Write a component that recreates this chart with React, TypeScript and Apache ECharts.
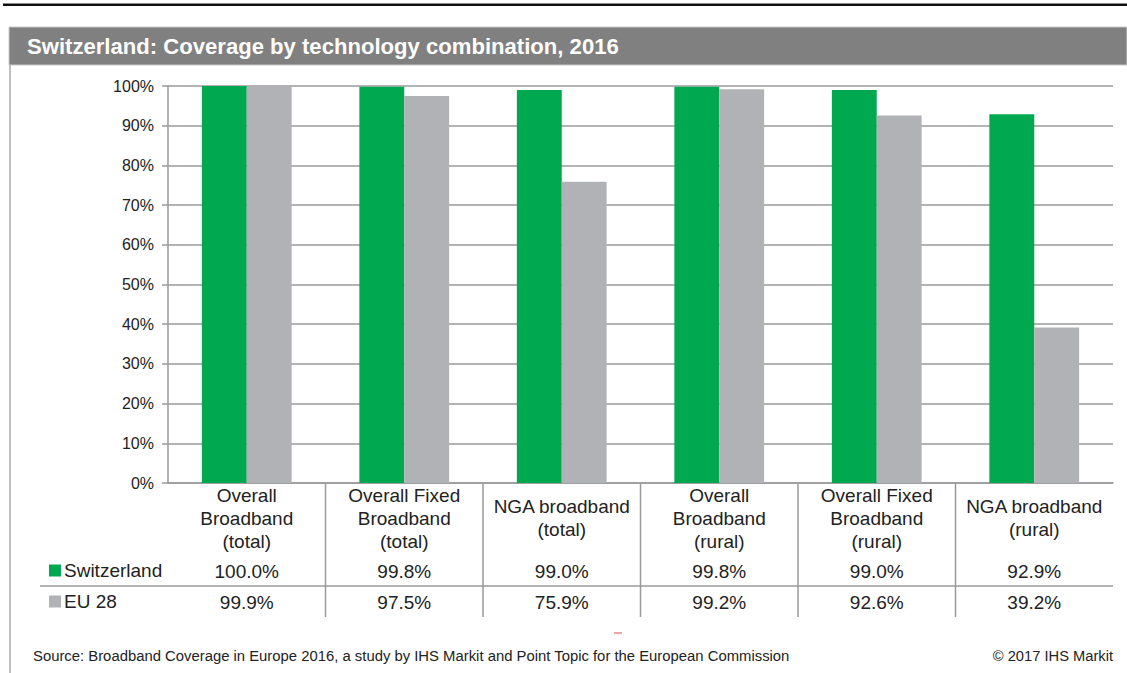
import { useEffect, useRef } from "react";
import * as echarts from "echarts";

const categories = [
  "Overall\nBroadband\n(total)",
  "Overall Fixed\nBroadband\n(total)",
  "NGA broadband\n(total)",
  "Overall\nBroadband\n(rural)",
  "Overall Fixed\nBroadband\n(rural)",
  "NGA broadband\n(rural)",
];
const switzerland = [100.0, 99.8, 99.0, 99.8, 99.0, 92.9];
const eu28 = [99.9, 97.5, 75.9, 99.2, 92.6, 39.2];
const seriesNames = ["Switzerland", "EU 28"];
const titleText = "Switzerland: Coverage by technology combination, 2016";
const sourceText =
  "Source: Broadband Coverage in Europe 2016, a study by IHS Markit and Point Topic for the European Commission";
const copyrightText = "© 2017 IHS Markit";

const GREEN = "#00A94F";
const GREY = "#B1B2B5";
const LINE = "#9a9a9a";
const TXT = "#222222";
const FONT = "'Liberation Sans', Arial, sans-serif";

export default function App() {
  const ref = useRef<HTMLDivElement>(null);
  useEffect(() => {
    if (!ref.current) return;
    const chart = echarts.init(ref.current, undefined, { renderer: "svg" });
    const valueAxis = (arr: number[], margin: number) => ({
      type: "category",
      data: categories,
      gridIndex: 0,
      position: "bottom",
      axisLine: { show: false },
      axisTick: { show: false },
      axisLabel: {
        interval: 0,
        margin,
        verticalAlign: "middle",
        color: TXT,
        fontSize: 19,
        fontFamily: FONT,
        formatter: (_v: string, i: number) => arr[i].toFixed(1) + "%",
      },
    });
    chart.setOption({
      animation: false,
      backgroundColor: "#ffffff",
      textStyle: { fontFamily: FONT },
      grid: { left: 168, right: 14, top: 86, bottom: 190, containLabel: false },
      legend: {
        orient: "vertical",
        left: 44,
        top: 556,
        itemWidth: 12,
        itemHeight: 12,
        itemGap: 12,
        icon: "rect",
        selectedMode: false,
        textStyle: { color: TXT, fontSize: 19, fontFamily: FONT, padding: [0, 0, 0, -2] },
        data: seriesNames,
      },
      xAxis: [
        {
          type: "category",
          data: categories,
          axisLine: { show: true, lineStyle: { color: LINE, width: 1.5 } },
          axisTick: { show: false },
          axisLabel: {
            interval: 0,
            margin: 35,
            verticalAlign: "middle",
            color: TXT,
            fontSize: 19,
            lineHeight: 23,
            fontFamily: FONT,
          },
        },
        valueAxis(switzerland, 88),
        valueAxis(eu28, 119),
      ],
      yAxis: {
        type: "value",
        min: 0,
        max: 100,
        interval: 10,
        axisLine: { show: true, lineStyle: { color: LINE, width: 1.5 } },
        axisTick: { show: true, length: 6, lineStyle: { color: LINE, width: 1.5 } },
        splitLine: { show: true, lineStyle: { color: LINE, width: 1.5 } },
        axisLabel: {
          margin: 14,
          color: TXT,
          fontSize: 16,
          fontFamily: FONT,
          formatter: "{value}%",
        },
      },
      series: [
        {
          name: seriesNames[0],
          type: "bar",
          data: switzerland,
          itemStyle: { color: GREEN },
          barGap: "0%",
          barCategoryGap: "43%",
        },
        {
          name: seriesNames[1],
          type: "bar",
          data: eu28,
          itemStyle: { color: GREY },
          barGap: "0%",
          barCategoryGap: "43%",
        },
      ],
    });

    const c0 = chart.convertToPixel({ xAxisIndex: 0 }, 0) as number;
    const c1 = chart.convertToPixel({ xAxisIndex: 0 }, 1) as number;
    const half = (c1 - c0) / 2;
    const yBottom = chart.convertToPixel({ yAxisIndex: 0 }, 0) as number;
    const lastC = chart.convertToPixel({ xAxisIndex: 0 }, categories.length - 1) as number;
    const rightEdge = lastC + half;
    const vLines: any[] = [];
    for (let i = 1; i < categories.length; i++) {
      const cx = (chart.convertToPixel({ xAxisIndex: 0 }, i) as number) - half;
      vLines.push({
        type: "line",
        shape: { x1: cx, y1: yBottom, x2: cx, y2: yBottom + 134 },
        style: { stroke: LINE, lineWidth: 1.5 },
      });
    }

    chart.setOption({
      graphic: [
        {
          type: "rect",
          shape: { x: 3, y: 3.5, width: 1124, height: 2.5 },
          style: { fill: "#111111" },
        },
        {
          type: "rect",
          shape: { x: 9, y: 27, width: 1118, height: 38 },
          style: { fill: "#7f807f", stroke: "#c8c8c8", lineWidth: 1 },
        },
        {
          type: "text",
          x: 27,
          y: 46.5,
          style: {
            text: titleText,
            fill: "#ffffff",
            font: `bold 22.1px ${FONT}`,
            verticalAlign: "middle",
          },
        },
        {
          type: "line",
          shape: { x1: 10, y1: 65, x2: 10, y2: 673 },
          style: { stroke: "#a8a8a8", lineWidth: 1.5 },
        },
        {
          type: "line",
          shape: { x1: 40, y1: 586, x2: rightEdge, y2: 586 },
          style: { stroke: LINE, lineWidth: 1.5 },
        },
        ...vLines,
        {
          type: "rect",
          shape: { x: 614, y: 632, width: 8, height: 2 },
          style: { fill: "#f2a3a3" },
        },
        {
          type: "text",
          x: 33,
          y: 656,
          style: {
            text: sourceText,
            fill: TXT,
            font: `14.85px ${FONT}`,
            verticalAlign: "middle",
          },
        },
        {
          type: "text",
          x: 1113,
          y: 656,
          style: {
            text: copyrightText,
            fill: TXT,
            font: `14.7px ${FONT}`,
            align: "right",
            verticalAlign: "middle",
          },
        },
      ],
    });

    return () => chart.dispose();
  }, []);
  return (
    <div
      ref={ref}
      style={{ position: "absolute", left: 0, top: 0, width: 1127, height: 673 }}
    />
  );
}
